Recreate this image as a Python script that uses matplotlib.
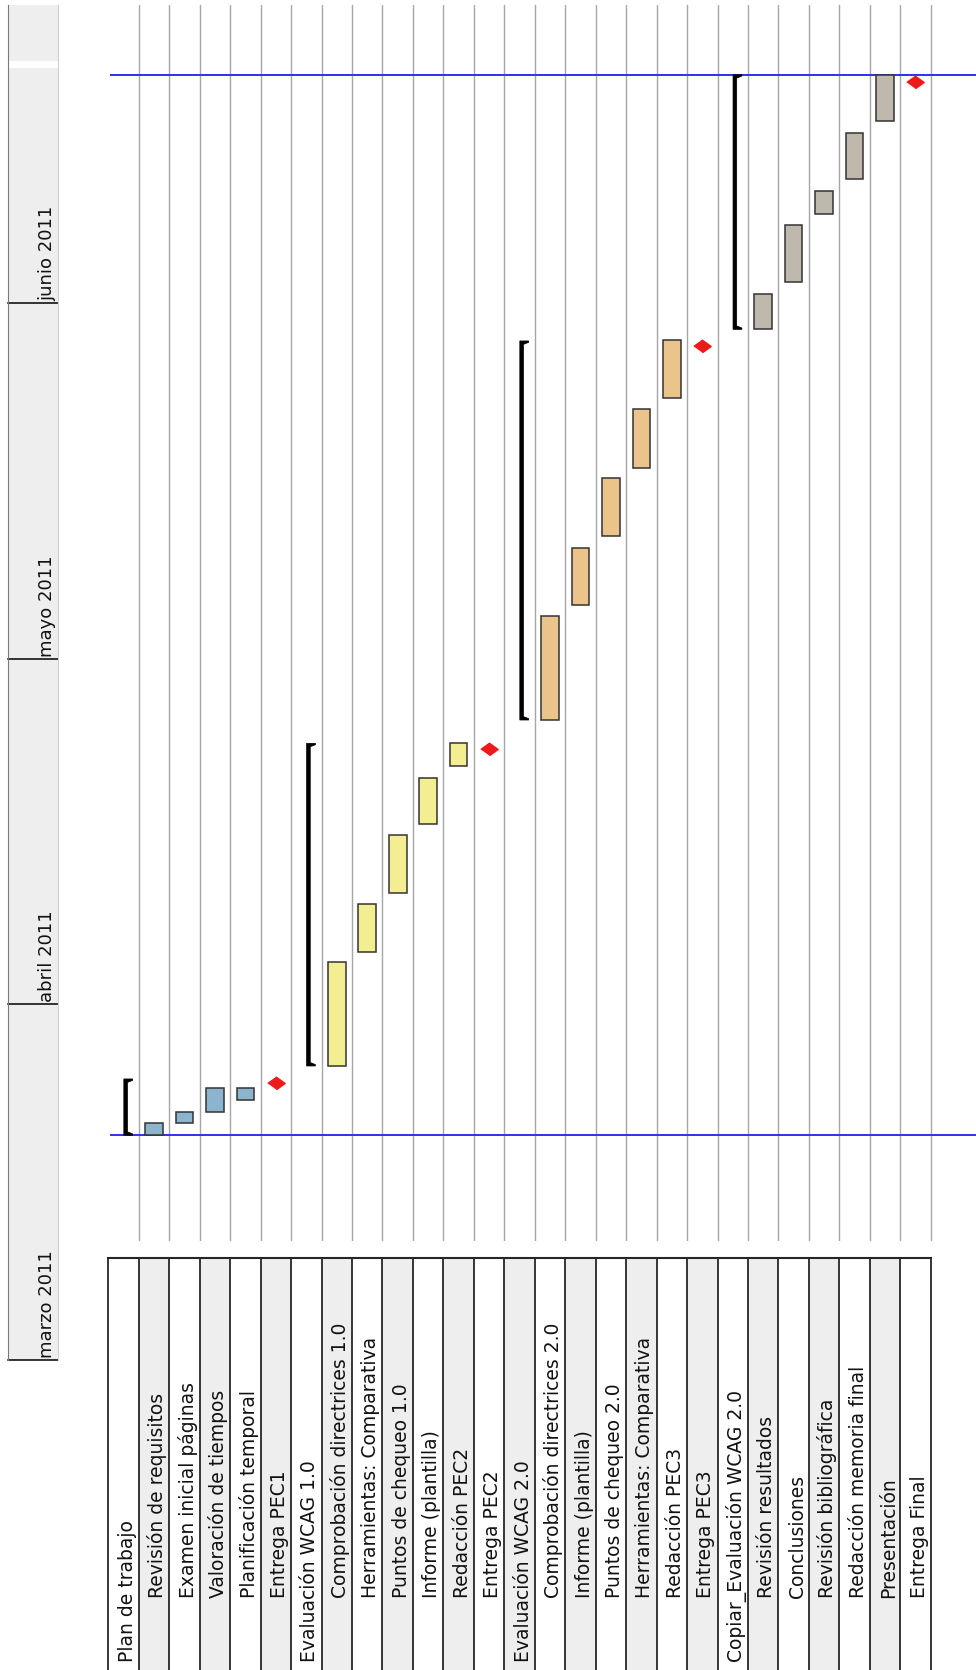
import numpy as np
import matplotlib.pyplot as plt

plt.rcParams.update({"font.family": "DejaVu Sans"})

# filas del diagrama (de izquierda a derecha una vez girado)
tareas = ['Plan de trabajo', 'Revisión de requisitos', 'Examen inicial páginas',
          'Valoración de tiempos', 'Planificación temporal', 'Entrega PEC1',
          'Evaluación WCAG 1.0', 'Comprobación directrices 1.0', 'Herramientas: Comparativa',
          'Puntos de chequeo 1.0', 'Informe (plantilla)', 'Redacción PEC2', 'Entrega PEC2',
          'Evaluación WCAG 2.0', 'Comprobación directrices 2.0', 'Informe (plantilla)',
          'Puntos de chequeo 2.0', 'Herramientas: Comparativa', 'Redacción PEC3', 'Entrega PEC3',
          'Copiar_Evaluación WCAG 2.0', 'Revisión resultados', 'Conclusiones',
          'Revisión bibliográfica', 'Redacción memoria final', 'Presentación', 'Entrega Final']
nivel = [0, 1, 1, 1, 1, 1, 0, 1, 1, 1, 1, 1, 1, 0, 1, 1, 1, 1, 1, 1, 0, 1, 1, 1, 1, 1, 1]
# R = resumen, T = tarea, H = hito
tipo = ['R', 'T', 'T', 'T', 'T', 'H', 'R', 'T', 'T', 'T', 'T', 'T', 'H',
        'R', 'T', 'T', 'T', 'T', 'T', 'H', 'R', 'T', 'T', 'T', 'T', 'T', 'H']
fase = [0, 0, 0, 0, 0, 0, 1, 1, 1, 1, 1, 1, 1, 2, 2, 2, 2, 2, 2, 2, 3, 3, 3, 3, 3, 3, 3]
# dias desde el 1 de marzo de 2011
inicio = [19.56, 19.56, 20.60, 21.56, 22.60, 24.13,
          25.59, 25.61, 35.54, 40.62, 46.68, 51.70, 53.15,
          55.70, 55.70, 65.74, 71.69, 77.66, 83.75, 88.22,
          89.70, 89.70, 93.82, 99.77, 102.81, 107.86, 111.25]
fin = [24.46, 20.63, 21.58, 23.67, 23.67, np.nan,
       53.67, 34.67, 39.69, 45.67, 50.68, 53.73, np.nan,
       88.69, 64.73, 70.67, 76.74, 82.74, 88.80, np.nan,
       111.86, 92.78, 98.76, 101.77, 106.79, 111.84, np.nan]
proyecto = [19.56, 111.86]

meses = ['marzo 2011', 'abril 2011', 'mayo 2011', 'junio 2011']
dia_mes = [0, 31, 61, 92]

colores_fase = ['#8db4cd', '#f4ee93', '#ebc48c', '#bfb8ad']

W, H = 976, 1670
fig = plt.figure(figsize=(W / 100, H / 100), dpi=100)

px_dia = 11.49
y_mar1 = 1360      # px del 1 de marzo (desde arriba)
fila = 30.46
x0_tabla = 108.3
n = len(tareas)


def dia(py):
    return (y_mar1 - py) / px_dia


def caja(x0, x1, y0, y1):
    return [x0 / W, 1 - y1 / H, (x1 - x0) / W, (y1 - y0) / H]


# --- diagrama ---
ax = fig.add_axes(caja(x0_tabla, W, 4.7, 1240.7))
ax.set_xlim(0, (W - x0_tabla) / fila)
ax.set_ylim(dia(1240.7), dia(4.7))
ax.axis('off')

for i in range(1, n + 1):
    ax.axvline(i, color='#a6a6a6', lw=1.0, zorder=1)
for d in proyecto:
    ax.axhline(d, xmin=0.003, color='#2f2ff5', lw=1.4, zorder=2)

diamante = [(-0.5, 0), (0, 0.36), (0.5, 0), (0, -0.36)]
for i in range(n):
    if tipo[i] == 'T':
        ax.bar(i + 0.5, fin[i] - inicio[i], bottom=inicio[i], width=0.58,
               color=colores_fase[fase[i]], edgecolor='#333333', lw=1.1, zorder=3)
    elif tipo[i] == 'R':
        a, b, c = i + 0.51, i + 0.63, i + 0.80
        lo, hi = inicio[i], fin[i]
        t, t2 = 0.3, 0.12
        ax.fill([a, c, c, b, b, c, c, a], [lo, lo, lo + t2, lo + t, hi - t, hi - t2, hi, hi],
                color='black', lw=0.5, zorder=3)
    else:
        ax.plot(i + 0.5, inicio[i], marker=diamante, ms=12.5, color='#ee1a1a',
                mec='#ee1a1a', zorder=4)

# --- tabla de tareas ---
axt = fig.add_axes(caja(x0_tabla, x0_tabla + n * fila, 1258.3, H))
axt.set_xlim(0, n)
axt.set_ylim(0, 1)
axt.axis('off')
alto = H - 1258.3
for i in range(n):
    axt.axvspan(i, i + 1, color='#eeeeee' if i % 2 else 'white', lw=0)
    axt.axvline(i, color='#262626', lw=1.3, clip_on=False)
    y_txt = (H - 1662) / alto if nivel[i] == 0 else (H - 1598) / alto
    axt.text(i + 0.8, y_txt, tareas[i], rotation=90, rotation_mode='anchor',
             ha='left', va='baseline', fontsize=13.5, color='#111111')
axt.axvline(n, color='#262626', lw=1.3, clip_on=False)
axt.axhline(1, color='#262626', lw=1.5, clip_on=False)

# --- escala de meses ---
axm = fig.add_axes(caja(8.3, 58.3, 4.7, y_mar1))
axm.set_xlim(0, 1)
axm.set_ylim(dia(y_mar1), dia(4.7))
axm.set_facecolor('#eeeeee')
axm.set_xticks([])
axm.set_yticks([])
for s in ['top', 'bottom']:
    axm.spines[s].set_visible(False)
axm.spines['left'].set_color('#7a7a7a')
axm.spines['right'].set_color('#d0d0d0')
axm.axhspan(dia(68.3), dia(61), color='white', lw=0)
for m, d in zip(meses, dia_mes):
    axm.axhline(d, color='black', lw=1.1, clip_on=False)
    axm.text(0.87, d + 0.2, m, rotation=90, rotation_mode='anchor',
             ha='left', va='baseline', fontsize=13, color='#111111')

fig.savefig('out.png', dpi=100, facecolor='white')
